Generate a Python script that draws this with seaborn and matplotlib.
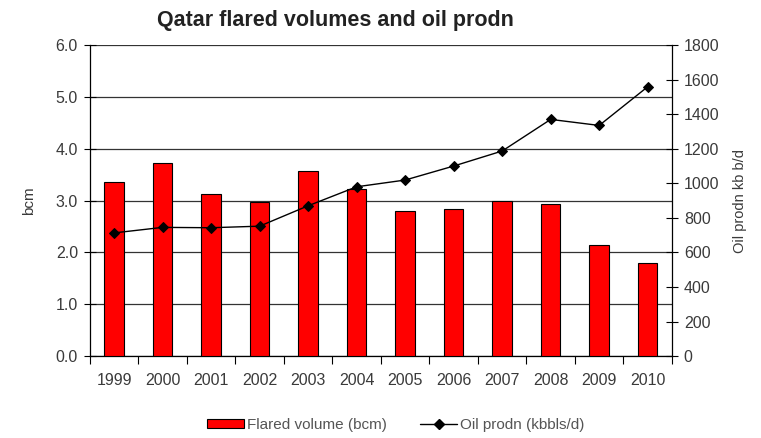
import matplotlib
matplotlib.use("Agg")
import matplotlib.pyplot as plt
import matplotlib.patches as mpatches
import matplotlib.lines as mlines
import numpy as np
import pandas as pd
import seaborn as sns

# values
years = ["1999", "2000", "2001", "2002", "2003", "2004",
         "2005", "2006", "2007", "2008", "2009", "2010"]
flared_bcm = [3.35, 3.72, 3.12, 2.98, 3.57, 3.22, 2.80, 2.83, 2.99, 2.93, 2.14, 1.80]
oil_kbd = [713, 745, 743, 752, 870, 980, 1019, 1100, 1187, 1370, 1335, 1559]

df = pd.DataFrame({"year": years, "flared": flared_bcm, "oil": oil_kbd})

sns.set_theme(style="white")
plt.rcParams["font.family"] = ["Liberation Sans", "DejaVu Sans"]

txt_col = "#3a3a3a"
fig = plt.figure(figsize=(7.61, 4.38), dpi=100)
ax = fig.add_axes([0.118, 0.187, 0.765, 0.710])

sns.barplot(data=df, x="year", y="flared", color="#ff0000", saturation=1,
            width=0.4, edgecolor="black", linewidth=0.8, ax=ax, zorder=3)
ax.set_ylim(0, 6)
ax.set_yticks(np.arange(0, 6.01, 1.0))
ax.set_yticklabels([f"{v:.1f}" for v in np.arange(0, 6.01, 1.0)])
ax.yaxis.grid(True, color="#333333", linewidth=0.9, zorder=0)
ax.set_axisbelow(True)
ax.set_xlim(-0.5, len(years) - 0.5)
ax.set_xlabel("")
ax.set_ylabel("bcm", fontsize=11, color=txt_col, labelpad=14)

# category separator ticks
ax.set_xticks(np.arange(-0.5, len(years), 1.0), minor=True)
ax.tick_params(axis="x", which="major", length=0, pad=12, labelsize=11.5, labelcolor=txt_col)
ax.tick_params(axis="x", which="minor", length=6, width=0.8, color="black", direction="out", bottom=True)
ax.tick_params(axis="y", length=9, width=0.8, color="black", direction="inout", left=True,
               pad=4, labelsize=11.5, labelcolor=txt_col)
for s in ["top", "right"]:
    ax.spines[s].set_visible(False)
for s in ["left", "bottom"]:
    ax.spines[s].set_color("black")
    ax.spines[s].set_linewidth(0.9)

ax2 = ax.twinx()
sns.pointplot(data=df, x="year", y="oil", color="black", markers="D",
              markersize=5, linewidth=1.0, ax=ax2, zorder=4)
ax2.set_ylim(0, 1800)
ax2.set_yticks(np.arange(0, 1801, 200))
ax2.set_ylabel("Oil prodn kb b/d", fontsize=10.5, color=txt_col, rotation=90, labelpad=10)
ax2.tick_params(axis="y", length=9, width=0.8, color="black", direction="inout", right=True,
                pad=4, labelsize=11.5, labelcolor=txt_col)
ax2.grid(False)
for s in ["top", "left", "bottom"]:
    ax2.spines[s].set_visible(False)
ax2.spines["right"].set_color("black")
ax2.spines["right"].set_linewidth(0.9)

fig.text(0.441, 0.953, "Qatar flared volumes and oil prodn", ha="center", va="center",
         fontsize=15.5, fontweight="bold", color="#222222")

bar_h = mpatches.Patch(facecolor="#ff0000", edgecolor="black", linewidth=0.8,
                       label="Flared volume (bcm)")
line_h = mlines.Line2D([], [], color="black", marker="D", markersize=5, linewidth=1.0,
                       label="Oil prodn (kbbls/d)")
fig.legend(handles=[bar_h, line_h], loc="center", bbox_to_anchor=(0.52, 0.03),
           ncol=2, frameon=False, fontsize=11, handlelength=2.4, handleheight=0.5,
           columnspacing=2.2, handletextpad=0.2, labelcolor="#555555")

fig.savefig("out.png", dpi=100)
